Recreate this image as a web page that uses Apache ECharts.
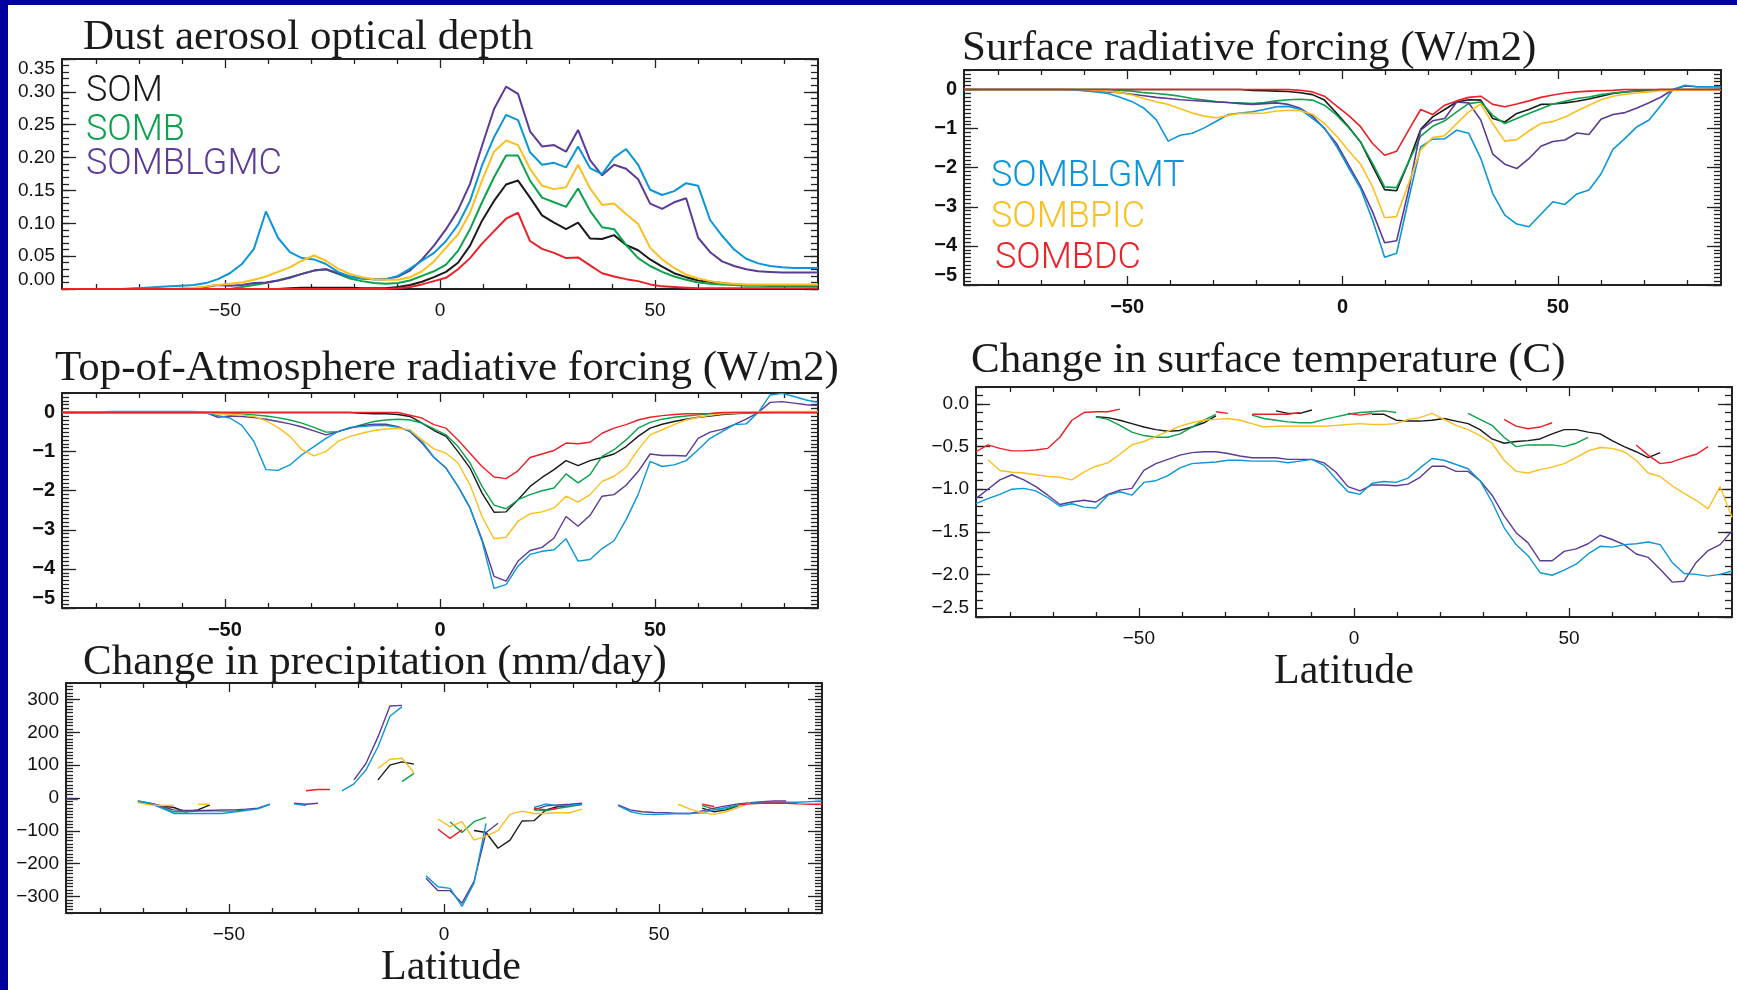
<!DOCTYPE html>
<html><head><meta charset="utf-8">
<script src="https://cdn.jsdelivr.net/npm/echarts@6/dist/echarts.min.js"></script>
<style>html,body{margin:0;padding:0;background:#fff;overflow:hidden}#c{width:1737px;height:990px}</style>
</head><body><div id="c"></div>
<script>
const N = null;
const lat = [-87.86,-85.10,-82.31,-79.53,-76.74,-73.95,-71.16,-68.37,-65.58,-62.79,-60.00,-57.21,-54.42,-51.63,-48.84,-46.05,-43.25,-40.46,-37.67,-34.88,-32.09,-29.30,-26.51,-23.72,-20.93,-18.14,-15.35,-12.56,-9.77,-6.98,-4.19,-1.40,1.40,4.19,6.98,9.77,12.56,15.35,18.14,20.93,23.72,26.51,29.30,32.09,34.88,37.67,40.46,43.25,46.05,48.84,51.63,54.42,57.21,60.00,62.79,65.58,68.37,71.16,73.95,76.74,79.53,82.31,85.10,87.86];
const runNames = ['SOM','SOMB','SOMBLGMC','SOMBLGMT','SOMBPIC','SOMBDC'];
const runColors = ['#1a1a1a','#0aa24a','#5b3a98','#0a96d8','#fbbf1e','#ec2027'];

// Dust aerosol optical depth
const aodSOM = [0,0,0,0,0,0,0,0,0,0, 0,0,0,0,0,0,0,0,0,0.001, 0.002,0.002,0.002,0.002,0.002,0.001,0.001,0.001,0.003,0.006, 0.011,0.018,0.026,0.040,0.066,0.104,0.134,0.159,0.165,0.139, 0.112,0.101,0.091,0.101,0.077,0.076,0.082,0.067,0.059,0.045, 0.034,0.024,0.018,0.013,0.011,0.009,0.007,0.006,0.006,0.005, 0.005,0.005,0.005,0.005];
const aodSOMB = [0,0,0,0,0,0,0,0,0,0, 0,0,0,0,0,0.003,0.006,0.009,0.013,0.018, 0.023,0.028,0.030,0.023,0.016,0.012,0.009,0.008,0.009,0.013, 0.020,0.027,0.037,0.058,0.091,0.132,0.170,0.203,0.203,0.165, 0.139,0.132,0.125,0.153,0.119,0.094,0.091,0.067,0.047,0.035, 0.026,0.019,0.014,0.010,0.008,0.007,0.006,0.005,0.005,0.005, 0.005,0.005,0.005,0.005];
const aodSOMBLGMC = [0,0,0,0,0,0,0,0,0,0, 0,0.001,0.003,0.006,0.005,0.006,0.009,0.010,0.013,0.017, 0.023,0.028,0.030,0.024,0.019,0.016,0.015,0.015,0.019,0.028, 0.045,0.066,0.091,0.120,0.160,0.218,0.274,0.308,0.297,0.240, 0.217,0.219,0.209,0.242,0.196,0.173,0.189,0.183,0.167,0.130, 0.122,0.132,0.138,0.078,0.056,0.042,0.035,0.030,0.027,0.026, 0.025,0.025,0.025,0.025];
const aodSOMBLGMT = [0,0,0,0,0,0,0.001,0.002,0.003,0.004, 0.005,0.006,0.009,0.015,0.024,0.038,0.061,0.118,0.078,0.056, 0.047,0.045,0.038,0.026,0.019,0.016,0.015,0.015,0.020,0.031, 0.043,0.055,0.073,0.098,0.134,0.188,0.231,0.265,0.257,0.208, 0.189,0.192,0.185,0.217,0.184,0.175,0.200,0.213,0.189,0.151, 0.143,0.149,0.161,0.157,0.105,0.081,0.060,0.046,0.039,0.035, 0.033,0.032,0.032,0.032];
const aodSOMBPIC = [0,0,0,0,0,0,0,0,0,0, 0.001,0.002,0.004,0.006,0.008,0.010,0.014,0.019,0.026,0.033, 0.043,0.051,0.043,0.031,0.023,0.018,0.015,0.014,0.014,0.018, 0.027,0.042,0.063,0.083,0.116,0.165,0.209,0.226,0.219,0.183, 0.157,0.152,0.155,0.189,0.153,0.128,0.130,0.114,0.099,0.063, 0.045,0.032,0.022,0.016,0.012,0.009,0.008,0.007,0.007,0.007, 0.007,0.007,0.007,0.007];
const aodSOMBDC = [0,0,0,0,0,0,0,0,0,0, 0,0,0,0,0,0,0,0,0,0, 0,0,0,0,0,0,0,0,0.001,0.003, 0.007,0.012,0.017,0.030,0.047,0.069,0.088,0.107,0.116,0.073, 0.061,0.055,0.047,0.048,0.036,0.024,0.019,0.015,0.012,0.007, 0.004,0.003,0.002,0.001,0.001,0.001,0.001,0.001,0.001,0.001, 0.001,0.001,0.001,0.001];

// Surface radiative forcing
const srfSOM = [0,0,0,0,0,0,0,0,0,0, 0,0,0,0,0,0,0,0,0,0, 0,0,0,0,-0.02,-0.03,-0.04,-0.05,-0.08,-0.13, -0.27,-0.60,-0.95,-1.34,-1.96,-2.56,-2.59,-1.85,-1.02,-0.70, -0.51,-0.32,-0.26,-0.27,-0.74,-0.83,-0.61,-0.51,-0.38,-0.37, -0.34,-0.30,-0.24,-0.17,-0.10,-0.06,-0.03,-0.01,0,0, 0,0,0,0];
const srfSOMB = [0,0,0,0,0,0,0,0,0,0, 0,0,0,-0.02,-0.04,-0.08,-0.10,-0.13,-0.17,-0.23, -0.27,-0.31,-0.33,-0.34,-0.36,-0.33,-0.29,-0.26,-0.25,-0.27, -0.40,-0.65,-0.97,-1.34,-1.89,-2.49,-2.51,-1.85,-1.19,-0.94, -0.80,-0.57,-0.36,-0.32,-0.66,-0.87,-0.74,-0.61,-0.49,-0.37, -0.30,-0.23,-0.19,-0.13,-0.09,-0.06,-0.04,-0.03,-0.01,-0.01, 0,0,0,0];
const srfSOMBLGMC = [0,0,0,0,0,0,0,0,0,0, -0.02,-0.04,-0.06,-0.08,-0.12,-0.16,-0.20,-0.23,-0.26,-0.28, -0.30,-0.32,-0.33,-0.36,-0.38,-0.36,-0.34,-0.38,-0.48,-0.68, -1.00,-1.38,-1.93,-2.47,-3.13,-3.92,-3.87,-2.57,-1.04,-0.80, -0.74,-0.32,-0.34,-0.78,-1.65,-1.91,-2.02,-1.77,-1.45,-1.33, -1.29,-1.11,-1.15,-0.76,-0.64,-0.59,-0.47,-0.34,-0.19,0.00, 0.09,0.07,0.07,0.07];
const srfSOMBLGMT = [0,0,0,0,0,0,0,0,0,-0.01, -0.03,-0.06,-0.10,-0.20,-0.31,-0.48,-0.77,-1.32,-1.17,-1.12, -0.98,-0.81,-0.64,-0.60,-0.57,-0.51,-0.44,-0.43,-0.51,-0.74, -0.98,-1.45,-2.00,-2.53,-3.34,-4.29,-4.19,-2.80,-1.47,-1.27, -1.26,-1.04,-1.12,-1.76,-2.66,-3.21,-3.44,-3.51,-3.19,-2.87, -2.94,-2.67,-2.57,-2.16,-1.53,-1.25,-0.95,-0.78,-0.40,0.00, 0.11,0.07,0.07,0.07];
const srfSOMBPIC = [0,0,0,0,0,0,0,0,0,0, 0,-0.02,-0.04,-0.08,-0.14,-0.23,-0.31,-0.38,-0.49,-0.60, -0.68,-0.72,-0.66,-0.61,-0.61,-0.60,-0.55,-0.53,-0.54,-0.63, -0.87,-1.19,-1.56,-1.91,-2.49,-3.28,-3.25,-2.40,-1.55,-1.23, -1.18,-0.87,-0.57,-0.37,-0.87,-1.32,-1.28,-1.06,-0.87,-0.82, -0.70,-0.55,-0.40,-0.26,-0.17,-0.12,-0.09,-0.06,-0.03,-0.02, -0.01,-0.01,-0.01,-0.01];
const srfSOMBDC = [0,0,0,0,0,0,0,0,0,0, 0,0,0,0,0,0,0,0,0,0, 0,0,0,0,0,0,0,0,-0.02,-0.06, -0.17,-0.42,-0.66,-0.95,-1.38,-1.68,-1.58,-1.04,-0.51,-0.64, -0.40,-0.29,-0.20,-0.17,-0.38,-0.44,-0.37,-0.29,-0.20,-0.14, -0.09,-0.06,-0.04,-0.03,-0.02,0,0,0,0,0, 0,0,0,0];

// Top-of-atmosphere radiative forcing
const toaSOM = [0,0,0,0,0,0,0,0,0,0, 0,0,0,0,0,0,0,0,0,0, 0,0,0,0,0,-0.02,-0.03,-0.03,-0.05,-0.10, -0.27,-0.46,-0.61,-1.00,-1.42,-2.06,-2.55,-2.54,-2.23,-1.89, -1.66,-1.46,-1.23,-1.36,-1.23,-1.15,-1.06,-0.87,-0.61,-0.40, -0.30,-0.23,-0.17,-0.12,-0.09,-0.05,-0.03,-0.01,0,0, 0,0,0,0];
const toaSOMB = [0,0,0,0,0,0,0,0,0,0, 0,0,0,0,-0.02,-0.04,-0.06,-0.09,-0.13,-0.19, -0.27,-0.38,-0.50,-0.49,-0.40,-0.31,-0.23,-0.19,-0.17,-0.19, -0.27,-0.42,-0.57,-0.87,-1.29,-1.89,-2.37,-2.46,-2.23,-2.10, -2.00,-1.93,-1.57,-1.80,-1.59,-1.12,-0.95,-0.70,-0.40,-0.25, -0.17,-0.12,-0.09,-0.06,-0.03,-0.01,0,0,0,0, 0.01,0.01,0.01,0.01];
const toaSOMBLGMC = [0,0,0,0,0,0,0,0,0,0, 0,0,0,-0.12,-0.09,-0.10,-0.13,-0.17,-0.23,-0.29, -0.37,-0.47,-0.57,-0.49,-0.40,-0.33,-0.30,-0.30,-0.36,-0.49, -0.78,-1.15,-1.42,-1.89,-2.44,-3.25,-4.19,-4.31,-3.80,-3.53, -3.45,-3.21,-2.66,-2.91,-2.63,-2.14,-2.10,-1.86,-1.51,-1.06, -1.10,-1.10,-1.11,-0.66,-0.50,-0.43,-0.31,-0.17,0.00,0.26, 0.28,0.24,0.20,0.18];
const toaSOMBLGMT = [0,0,0,0,0.03,0.03,0.03,0.03,0.03,0.03, 0.03,0.03,0.00,-0.08,-0.14,-0.33,-0.74,-1.46,-1.48,-1.34, -1.08,-0.87,-0.66,-0.49,-0.38,-0.36,-0.33,-0.33,-0.38,-0.47, -0.74,-1.15,-1.42,-1.89,-2.44,-3.29,-4.50,-4.40,-3.93,-3.63, -3.55,-3.51,-3.23,-3.80,-3.76,-3.48,-3.28,-2.74,-2.10,-1.25, -1.38,-1.34,-1.23,-0.95,-0.66,-0.49,-0.31,-0.29,0.00,0.45, 0.49,0.41,0.32,0.26];
const toaSOMBPIC = [0,0,0,0,0,0,0,0,0,0, 0,0,0,-0.04,-0.04,-0.06,-0.10,-0.21,-0.38,-0.61, -0.95,-1.11,-1.00,-0.74,-0.61,-0.53,-0.46,-0.42,-0.40,-0.44, -0.70,-0.93,-1.04,-1.29,-1.85,-2.66,-3.23,-3.19,-2.78,-2.59, -2.54,-2.44,-2.14,-2.29,-2.10,-1.76,-1.63,-1.40,-0.95,-0.57, -0.44,-0.31,-0.19,-0.12,-0.07,-0.03,-0.02,0.00,0.02,0.03, 0.03,0.03,0.03,0.03];
const toaSOMBDC = [0,0,0,0,0,0,0,0,0,0, 0,0,0,0,0,0,0,0,0,0, 0,0,0,0,0,0,0,0,0,-0.07, -0.14,-0.31,-0.40,-0.70,-1.04,-1.38,-1.65,-1.69,-1.49,-1.15, -1.06,-0.97,-0.78,-0.80,-0.76,-0.53,-0.40,-0.31,-0.19,-0.12, -0.08,-0.05,-0.03,-0.03,-0.02,0,0,0,0,0, 0,0,0,0];

// Change in surface temperature
const tmpSOM = [N,N,N,N,N,N,N,N,N,N, -0.15,-0.16,-0.19,-0.23,-0.27,-0.30,-0.32,-0.31,-0.27,-0.22, -0.14,N,N,N,N,-0.08,-0.11,-0.11,-0.07,N, N,N,N,-0.12,-0.12,-0.19,-0.20,-0.20,-0.19,-0.17, -0.20,-0.23,-0.30,-0.41,-0.46,-0.44,-0.43,-0.41,-0.35,-0.30, -0.30,-0.33,-0.35,-0.43,-0.50,-0.56,-0.63,-0.57,N,N, N,N,N,N];
const tmpSOMB = [N,N,N,N,N,N,N,N,N,N, -0.15,-0.18,-0.25,-0.33,-0.37,-0.39,-0.39,-0.35,-0.27,-0.19, -0.12,N,N,-0.13,-0.17,-0.19,-0.21,-0.22,-0.22,-0.18, -0.15,-0.12,-0.10,-0.09,-0.08,-0.10,N,N,N,N, N,-0.11,-0.18,-0.25,-0.39,-0.50,-0.48,-0.48,-0.48,-0.50, -0.46,-0.39,N,N,N,N,N,N,N,N, N,N,N,N];
const tmpSOMBLGMC = [-1.11,-1.00,-0.89,-0.83,-0.89,-0.97,-1.07,-1.18,-1.15,-1.13, -1.15,-1.06,-1.01,-0.99,-0.78,-0.70,-0.65,-0.60,-0.57,-0.56, -0.56,-0.58,-0.61,-0.63,-0.63,-0.63,-0.65,-0.65,-0.65,-0.69, -0.80,-0.97,-1.02,-0.95,-0.95,-0.96,-0.94,-0.86,-0.73,-0.73, -0.79,-0.79,-0.90,-1.07,-1.31,-1.51,-1.63,-1.84,-1.84,-1.73, -1.70,-1.64,-1.54,-1.59,-1.65,-1.76,-1.80,-1.94,-2.09,-2.08, -1.86,-1.72,-1.65,-1.49];
const tmpSOMBLGMT = [-1.17,-1.11,-1.06,-1.00,-0.99,-1.02,-1.10,-1.20,-1.17,-1.21, -1.22,-1.07,-1.03,-1.07,-0.92,-0.90,-0.84,-0.75,-0.70,-0.69, -0.68,-0.66,-0.66,-0.67,-0.67,-0.67,-0.69,-0.67,-0.65,-0.72, -0.88,-1.03,-1.06,-0.93,-0.91,-0.92,-0.87,-0.75,-0.64,-0.66, -0.71,-0.76,-0.90,-1.15,-1.45,-1.65,-1.78,-1.98,-2.01,-1.95, -1.88,-1.76,-1.67,-1.68,-1.65,-1.64,-1.62,-1.65,-1.86,-1.99, -2.00,-2.02,-2.00,-1.96];
const tmpSOMBPIC = [N,-0.65,-0.78,-0.80,-0.81,-0.83,-0.85,-0.86,-0.89,-0.80, -0.73,-0.69,-0.59,-0.48,-0.44,-0.38,-0.32,-0.26,-0.22,-0.19, -0.18,-0.17,-0.19,-0.23,-0.27,-0.26,-0.26,-0.26,-0.26,-0.26, -0.25,-0.24,-0.23,-0.24,-0.24,-0.23,-0.18,-0.16,-0.11,-0.18, -0.25,-0.30,-0.37,-0.46,-0.66,-0.79,-0.81,-0.77,-0.74,-0.70, -0.63,-0.55,-0.51,-0.52,-0.56,-0.66,-0.81,-0.85,-0.96,-1.05, -1.13,-1.23,-0.97,-1.33];
const tmpSOMBDC = [-0.56,-0.48,-0.52,-0.55,-0.55,-0.54,-0.52,-0.39,-0.19,-0.10, -0.09,-0.09,-0.06,N,N,N,N,N,N,N, -0.09,-0.11,N,-0.12,-0.12,-0.12,-0.12,-0.10,N,N, N,-0.11,-0.13,-0.11,N,N,N,N,N,N, N,N,N,N,-0.18,-0.26,-0.29,-0.27,-0.22,N, N,N,N,N,N,-0.48,-0.60,-0.70,-0.68,-0.63, -0.59,-0.50,N,N];

// Change in precipitation
const prSOM = [N,N,N,N,N,N,N,-16,-24,-29, -42,-36,-21,N,N,N,N,N,N,N, N,N,N,N,N,N,55,100,110,103, N,N,N,N,-99,-105,-153,-128,-70,-69, -36,-26,-24,-19,N,N,N,N,N,N, N,N,N,-31,-42,-36,-24,N,N,N, N,N,N,N];
const prSOMB = [N,N,N,N,N,N,-9,-16,-29,-42, -42,-40,-38,-40,-40,-36,N,N,N,N, N,N,N,N,N,N,N,N,50,75, N,N,-72,-105,-72,-59,N,N,N,-36, -39,-31,-26,-19,N,N,N,N,N,N, N,N,N,-23,-34,-33,-23,N,N,N, N,N,N,N];
const prSOMBLGMC = [-3,-5,N,N,N,N,-11,-18,-26,-36, -38,-38,-38,-36,-36,-34,-31,-19,N,-16, -19,-16,N,N,55,105,186,280,282,N, -244,-282,-282,-320,-254,-105,-77,N,N,-36, -24,-21,-19,-16,N,N,-21,-36,-42,-44, -45,-47,-47,-39,-31,-24,-18,-14,-11,-9, -9,N,N,N];
const prSOMBLGMT = [N,N,N,N,N,N,-9,-16,-31,-47, -47,-47,-47,-47,-43,-38,-33,-19,N,-18, -23,N,N,22,43,85,156,249,278,N, -237,-270,-275,-330,-259,-77,N,N,N,-29, -18,-24,-23,-19,N,N,-23,-41,-49,-50, -49,-47,-47,-45,-36,-29,-21,-16,-13,-13, -13,-13,-11,-9];
const prSOMBPIC = [N,N,N,N,N,N,-14,-21,-23,-23, N,-19,-19,N,N,N,N,N,N,N, N,N,N,N,N,N,90,118,121,77, N,-64,-87,-72,-128,-116,-99,-50,-40,-47, -47,-45,-45,-34,N,N,N,N,N,N, N,-19,-34,-45,-50,-42,-29,-14,N,N, N,N,N,N];
const prSOMBDC = [N,N,N,N,N,N,N,N,N,N, N,N,N,N,N,N,N,N,N,N, 22,26,26,N,N,N,N,N,N,N, N,-95,-123,-97,N,N,N,N,N,-31, -36,-31,N,N,N,N,N,N,N,N, N,N,N,-19,-26,N,-21,-18,-16,-15, -16,-18,-19,-19];

// tick labels
const xMajorTicks = [-50, 0, 50];
const xMinorTicks = [-80,-70,-60,-40,-30,-20,-10,10,20,30,40,60,70,80];
const aodTicks = [0,0.05,0.10,0.15,0.20,0.25,0.30,0.35];
const rfTicks = [-5,-4,-3,-2,-1,0];
const tmpTicks = [-2.5,-2.0,-1.5,-1.0,-0.5,0.0];
const prTicks = [-300,-200,-100,0,100,200,300];

function range(a,b,s){const r=[];const n=Math.round((b-a)/s);for(let k=0;k<=n;k++){r.push(+(a+k*s).toFixed(6));}return r;}
const minus = s => s.replace('-', '\u2212');

const panels = [
  {title:'Dust aerosol optical depth', tx:83, ty:52, runs:[aodSOM,aodSOMB,aodSOMBLGMC,aodSOMBLGMT,aodSOMBPIC,aodSOMBDC],
   grid:{left:62,top:59,width:756,height:230}, ymin:0, ymax:0.35, yt:aodTicks, ystep:0.01, fmt:v=>v.toFixed(2), fs:19, fw:'normal', lw:2, alignMin:'bottom', alignMax:'top'},
  {title:'Surface radiative forcing (W/m2)', tx:962, ty:63, runs:[srfSOM,srfSOMB,srfSOMBLGMC,srfSOMBLGMT,srfSOMBPIC,srfSOMBDC],
   grid:{left:964,top:70,width:757,height:215}, ymin:-5, ymax:0.5, yt:rfTicks, ystep:0.1, fmt:v=>minus(String(v)), fs:20, fw:'bold', lw:1.6, alignMin:'bottom'},
  {title:'Top-of-Atmosphere radiative forcing (W/m2)', tx:55, ty:383, runs:[toaSOM,toaSOMB,toaSOMBLGMC,toaSOMBLGMT,toaSOMBPIC,toaSOMBDC],
   grid:{left:62,top:393,width:756,height:215}, ymin:-5, ymax:0.5, yt:rfTicks, ystep:0.1, fmt:v=>minus(String(v)), fs:20, fw:'bold', lw:1.4, alignMin:'bottom'},
  {title:'Change in surface temperature (C)', tx:971, ty:375, runs:[tmpSOM,tmpSOMB,tmpSOMBLGMC,tmpSOMBLGMT,tmpSOMBPIC,tmpSOMBDC],
   grid:{left:976,top:387,width:756,height:230}, ymin:-2.5, ymax:0.2, yt:tmpTicks, ystep:0.1, fmt:v=>minus(v.toFixed(1)), fs:19, fw:'normal', lw:1.4, alignMin:'bottom'},
  {title:'Change in precipitation (mm/day)', tx:83, ty:677, runs:[prSOM,prSOMB,prSOMBLGMC,prSOMBLGMT,prSOMBPIC,prSOMBDC],
   grid:{left:66,top:683,width:756,height:230}, ymin:-350, ymax:350, yt:prTicks, ystep:10, fmt:v=>minus(String(v)), fs:19, fw:'normal', lw:1.4}
];

const axisColor = '#222';
const grids = [], xAxes = [], yAxes = [], series = [];
const graphics = [
  {type:'rect', shape:{x:0,y:0,width:1737,height:5}, style:{fill:'#0000a0'}},
  {type:'rect', shape:{x:0,y:0,width:8,height:990}, style:{fill:'#0000a0'}}
];
panels.forEach((p, gi) => {
  grids.push(Object.assign({containLabel:false}, p.grid));
  const xb = {gridIndex:gi, type:'value', min:-87.86, max:87.86, splitLine:{show:false}, axisPointer:{show:false}};
  const line = {show:true, onZero:false, lineStyle:{color:axisColor, width:2}};
  const noLine = {show:false, onZero:false};
  const tickStyle = {color:axisColor, width:1.3};
  const xi = xAxes.length;
  xAxes.push(Object.assign({}, xb, {position:'bottom', axisLine:line,
    axisTick:{show:true, inside:true, length:9, customValues:xMajorTicks, lineStyle:tickStyle},
    axisLabel:{show:true, customValues:xMajorTicks, formatter:v=>minus(String(v)), margin:12, color:'#111', fontSize:p.fs, fontWeight:p.fw, fontFamily:'Liberation Sans'}}));
  xAxes.push(Object.assign({}, xb, {position:'bottom', axisLine:noLine,
    axisTick:{show:true, inside:true, length:5, customValues:xMinorTicks, lineStyle:tickStyle}, axisLabel:{show:false}}));
  xAxes.push(Object.assign({}, xb, {position:'top', axisLine:line,
    axisTick:{show:true, inside:true, length:9, customValues:xMajorTicks, lineStyle:tickStyle}, axisLabel:{show:false}}));
  xAxes.push(Object.assign({}, xb, {position:'top', axisLine:noLine,
    axisTick:{show:true, inside:true, length:5, customValues:xMinorTicks, lineStyle:tickStyle}, axisLabel:{show:false}}));
  const yb = {gridIndex:gi, type:'value', min:p.ymin, max:p.ymax, splitLine:{show:false}, axisPointer:{show:false}};
  const yMinor = range(p.ymin, p.ymax, p.ystep);
  const yi = yAxes.length;
  const lab = {show:true, customValues:p.yt, formatter:p.fmt, margin:7, color:'#111', fontSize:p.fs, fontWeight:p.fw, fontFamily:'Liberation Sans'};
  if (p.alignMin) lab.verticalAlignMinLabel = p.alignMin;
  if (p.alignMax) lab.verticalAlignMaxLabel = p.alignMax;
  yAxes.push(Object.assign({}, yb, {position:'left', axisLine:line,
    axisTick:{show:true, inside:true, length:14, customValues:p.yt, lineStyle:tickStyle}, axisLabel:lab}));
  yAxes.push(Object.assign({}, yb, {position:'left', axisLine:noLine,
    axisTick:{show:true, inside:true, length:7, customValues:yMinor, lineStyle:tickStyle}, axisLabel:{show:false}}));
  yAxes.push(Object.assign({}, yb, {position:'right', axisLine:line,
    axisTick:{show:true, inside:true, length:14, customValues:p.yt, lineStyle:tickStyle}, axisLabel:{show:false}}));
  yAxes.push(Object.assign({}, yb, {position:'right', axisLine:noLine,
    axisTick:{show:true, inside:true, length:7, customValues:yMinor, lineStyle:tickStyle}, axisLabel:{show:false}}));
  p.runs.forEach((arr, k) => {
    series.push({type:'line', name:runNames[k], xAxisIndex:xi, yAxisIndex:yi,
      data: lat.map((x,i)=>[x, arr[i]]), showSymbol:false, symbol:'none', connectNulls:false, silent:true,
      lineStyle:{color:runColors[k], width:p.lw}, itemStyle:{color:runColors[k]}, z:2+k});
  });
  graphics.push({type:'text', x:p.tx, y:p.ty - 14.5, z:10,
    style:{text:p.title, font:'43px "Liberation Serif"', fill:'#1a1a1a', textAlign:'left', textVerticalAlign:'middle', verticalAlign:'middle'}});
});
// x-axis titles
[[1344,686],[451,982]].forEach(([x,y]) => graphics.push({type:'text', x:x, y:y-14.2, z:10,
  style:{text:'Latitude', font:'42px "Liberation Serif"', fill:'#1a1a1a', textAlign:'center', textVerticalAlign:'middle', verticalAlign:'middle'}}));
// in-plot run labels
const legendPos = [[86,92],[86,131],[86,165],[991,177],[991,218],[995,259]];
runNames.forEach((nm,k) => graphics.push({type:'text', x:legendPos[k][0], y:legendPos[k][1], z:10,
  style:{text:nm, font:'300 36px Roboto, "Liberation Sans"', fill:runColors[k], textAlign:'left', textVerticalAlign:'middle', verticalAlign:'middle'}}));

const chart = echarts.init(document.getElementById('c'), null, {renderer:'canvas'});
chart.setOption({animation:false, backgroundColor:'#ffffff', grid:grids, xAxis:xAxes, yAxis:yAxes, series:series, graphic:graphics});
</script></body></html>
